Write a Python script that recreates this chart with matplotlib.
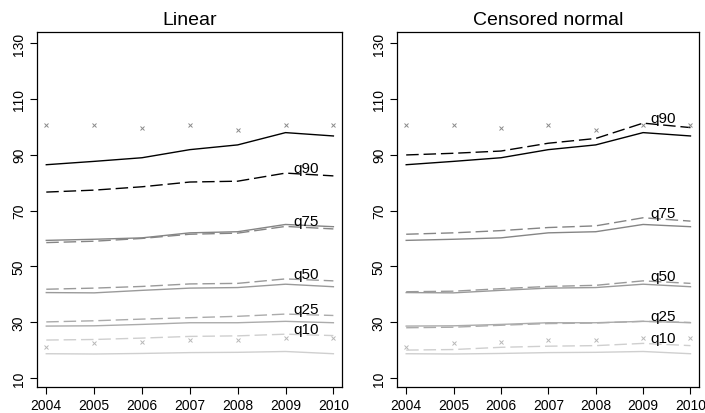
import matplotlib.pyplot as plt

plt.rcParams['font.family'] = ['Liberation Sans', 'DejaVu Sans']

years = [2004, 2005, 2006, 2007, 2008, 2009, 2010]
quantiles = ['q90', 'q75', 'q50', 'q25', 'q10']

# observed quantiles (solid, same in both panels)
obs = {
    'q90': [86.4, 87.6, 88.9, 91.8, 93.5, 97.9, 96.7],
    'q75': [59.3, 59.7, 60.2, 62.0, 62.4, 65.0, 64.2],
    'q50': [40.6, 40.5, 41.4, 42.2, 42.4, 43.6, 42.7],
    'q25': [28.6, 28.7, 29.2, 29.8, 29.8, 30.3, 29.8],
    'q10': [18.7, 18.6, 18.8, 19.1, 19.2, 19.5, 18.7],
}
# predicted quantiles (dashed)
linear = {
    'q90': [76.6, 77.3, 78.5, 80.2, 80.5, 83.4, 82.4],
    'q75': [58.5, 59.0, 60.0, 61.5, 61.9, 64.3, 63.4],
    'q50': [41.8, 42.2, 42.8, 43.7, 43.9, 45.5, 44.8],
    'q25': [30.1, 30.5, 31.1, 31.6, 32.1, 32.9, 32.4],
    'q10': [23.6, 23.8, 24.3, 24.9, 25.1, 25.7, 25.2],
}
censored = {
    'q90': [89.9, 90.5, 91.3, 94.1, 95.8, 101.3, 99.7],
    'q75': [61.5, 62.0, 62.8, 63.9, 64.5, 67.4, 66.2],
    'q50': [40.9, 41.1, 42.0, 42.8, 43.2, 44.8, 43.9],
    'q25': [28.0, 28.2, 28.9, 29.5, 29.7, 30.3, 29.9],
    'q10': [20.0, 20.2, 21.0, 21.4, 21.6, 22.4, 21.6],
}
# crosses: upper and lower bounds
upper = [100.6, 100.6, 99.4, 100.6, 98.9, 100.8, 100.8]
lower = [21.0, 22.4, 22.8, 23.5, 23.7, 24.5, 24.5]

colors = {'q90': 'black', 'q75': '#858585', 'q50': '#9a9a9a',
          'q25': '#ababab', 'q10': '#cfcfcf'}

fig = plt.figure(figsize=(7.05, 4.14), dpi=100)
ax1 = fig.add_axes([37/705, 1-388/414, 305/705, 355/414])
ax2 = fig.add_axes([397/705, 1-388/414, 302/705, 355/414])

for ax, title, pred in [(ax1, 'Linear', linear), (ax2, 'Censored normal', censored)]:
    for q in quantiles:
        c = colors[q]
        ax.plot(years, obs[q], color=c, lw=1.0)
        ax.plot(years, pred[q], color=c, lw=1.0, dashes=(9, 3.5))
        ax.text(2009.42, pred[q][5] + 1.8, q, ha='center', va='center', fontsize=11)
    ax.plot(years, upper, 'x', color='#8a8a8a', ms=3, mew=0.7)
    ax.plot(years, lower, 'x', color='#b8b8b8', ms=3, mew=0.7)
    ax.set_xlim(2003.806, 2010.18)
    ax.set_ylim(6.78, 133.94)
    ax.set_xticks(years)
    ax.set_yticks([10, 30, 50, 70, 90, 110, 130])
    for lab in ax.get_yticklabels():
        lab.set_rotation(90)
        lab.set_va('center')
    ax.tick_params(direction='out', length=5, width=0.8, labelsize=10, pad=3)
    for s in ax.spines.values():
        s.set_linewidth(0.9)
    ax.set_title(title, fontsize=14, pad=6)

fig.savefig('out.png', dpi=100)
